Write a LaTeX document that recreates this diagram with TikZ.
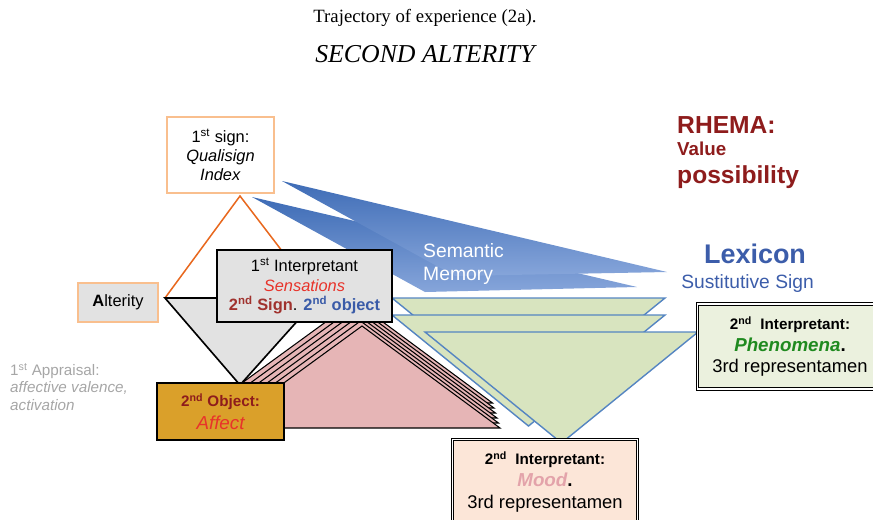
\documentclass[tikz,border=0pt]{standalone}
\usepackage{fontspec}
\setmainfont{Liberation Sans}
\newfontfamily\titlefont{Liberation Serif}
\newcommand{\fsz}[2]{\fontsize{#1}{#2}\selectfont}

\definecolor{peach}{HTML}{F9BF8E}
\definecolor{alterorange}{HTML}{E8681E}
\definecolor{greyfill}{HTML}{E2E2E2}
\definecolor{darkred}{HTML}{8E1C1C}
\definecolor{signred}{HTML}{A0322E}
\definecolor{objblue}{HTML}{3A5BA8}
\definecolor{sensred}{HTML}{E8332A}
\definecolor{gold}{HTML}{DAA02A}
\definecolor{pinkfill}{HTML}{E6B5B6}
\definecolor{greenfill}{HTML}{D8E4BF}
\definecolor{edgeblue}{HTML}{5585C2}
\definecolor{wedgetop}{HTML}{3E6CB6}
\definecolor{wedgebot}{HTML}{86A5DA}
\definecolor{phenomfill}{HTML}{EBF1DE}
\definecolor{phenomgreen}{HTML}{1F8A1F}
\definecolor{moodfill}{HTML}{FCE6D8}
\definecolor{moodpink}{HTML}{E3A3AA}
\definecolor{appraisalgrey}{HTML}{A6A6A6}
\definecolor{lexblue}{HTML}{3C5DAA}

\begin{document}
\begin{tikzpicture}[
    x=0.03cm, y=-0.03cm,
    box/.style={rectangle, align=center, line width=1.4pt, inner sep=0pt},
    signbox/.style={box, draw=peach, fill=white,
                    minimum width=3.21cm, minimum height=2.28cm,
                    font=\fsz{14}{16.2}},
    interpbox/.style={box, draw=black, fill=greyfill,
                      minimum width=5.25cm, minimum height=2.16cm,
                      font=\fsz{14}{16.5}},
    alterbox/.style={box, draw=peach, fill=greyfill,
                     minimum width=2.4cm, minimum height=1.17cm,
                     font=\fsz{14}{16}},
    objbox/.style={box, draw=black, fill=gold,
                   minimum width=3.81cm, minimum height=1.71cm,
                   font=\fsz{13}{19.5}},
    thirdbox/.style={box, draw=black, double=white, double distance=1.1pt,
                     line width=0.8pt, minimum width=5.55cm,
                     minimum height=2.55cm, font=\fsz{13}{18.7}},
    wedge/.style={top color=wedgetop, bottom color=wedgebot},
    greentri/.style={fill=greenfill, draw=edgeblue, line width=1.2pt,
                     line join=miter},
    pinktri/.style={fill=pinkfill, draw=black, line width=0.9pt},
    plain/.style={inner sep=0pt}
]
    \useasboundingbox (0,0) rectangle (873,519);
    \clip (0,0) rectangle (873,519);

    % Titles
    \node[plain, anchor=base, font=\titlefont\fsz{16}{18}] (title) at (425,22)
        {Trajectory of experience (2a).};
    \node[plain, anchor=base, font=\titlefont\itshape\fsz{22}{26}] (subtitle) at (425,62)
        {SECOND ALTERITY};

    % Semantic memory wedges
    \shade[wedge] (252,197) -- (637,287) -- (425,292) -- cycle;
    \shade[wedge] (282,181) -- (667,272) -- (455,276) -- cycle;
    \node[plain, anchor=north west, align=left, text=white,
          font=\fsz{16.5}{19.5}] (memory) at (423,243) {Semantic\\Memory};

    % Phenomena triangles
    \draw[greentri] (392,298) -- (665,298) -- (528.5,409) -- cycle;
    \draw[greentri] (392,315) -- (665,315) -- (528.5,426) -- cycle;
    \draw[greentri] (425,332) -- (698,332) -- (561.5,443) -- cycle;

    % Alterity triangle and first appraisal
    \draw[alterorange, line width=1.3pt] (165,298) -- (240,196) -- (318,298);
    \draw[fill=greyfill, draw=black, line width=1.4pt, line join=miter]
        (165,298) -- (318,298) -- (240,385) -- cycle;

    % Affect triangles (stacked)
    \draw[pinktri] (354.5,301) -- (214.5,403) -- (492.5,403) -- cycle;
    \draw[pinktri] (356,306) -- (216,408) -- (494,408) -- cycle;
    \draw[pinktri] (357.5,311) -- (217.5,413) -- (495.5,413) -- cycle;
    \draw[pinktri] (359,316) -- (219,418) -- (497,418) -- cycle;
    \draw[pinktri] (360.5,321) -- (220.5,423) -- (498.5,423) -- cycle;
    \draw[pinktri] (362,326) -- (222,428) -- (500,428) -- cycle;

    % Boxes
    \node[signbox] (sign) at (220.5,155)
        {1\textsuperscript{st} sign:\\\textit{Qualisign}\\\textit{Index}};
    \node[interpbox] (interp) at (304.5,286)
        {1\textsuperscript{st}\ Interpretant\\
         {\itshape\color{sensred}Sensations}\\
         {\bfseries\color{signred}2\textsuperscript{nd} Sign}. {\bfseries\color{objblue}2\textsuperscript{nd} object}};
    \node[alterbox] (alterity) at (118,302.5) {\textbf{A}lterity};
    \node[objbox] (object) at (220.5,411.5)
        {{\bfseries\color{darkred}2\textsuperscript{nd} Object:}\\
         {\fsz{16}{19}\itshape\color{sensred}Affect}};
    \node[thirdbox, fill=phenomfill] (phenom) at (790,346.5)
        {{\bfseries 2\textsuperscript{nd}\ \ Interpretant:}\\
         {\fsz{16}{19}\bfseries\itshape\color{phenomgreen}Phenomena}{\fsz{16}{19}\bfseries .}\\
         {\fsz{15.7}{19}3rd representamen}};
    \node[thirdbox, fill=moodfill] (mood) at (545,482)
        {{\bfseries 2\textsuperscript{nd}\ \ Interpretant:}\\
         {\fsz{16}{19}\bfseries\itshape\color{moodpink}Mood}{\fsz{16}{19}\bfseries .}\\
         {\fsz{15.7}{19}3rd representamen}};

    % Side texts
    \node[plain, anchor=north west, align=left, text=appraisalgrey,
          font=\fsz{13}{14.9}] (appraisal) at (10,363)
        {1\textsuperscript{st}\ Appraisal:\\\textit{affective valence,}\\\textit{activation}};
    \node[plain, anchor=base west, text=darkred, font=\bfseries\fsz{21}{24}] (rhema) at (677,133) {RHEMA:};
    \node[plain, anchor=base west, text=darkred, font=\bfseries\fsz{16}{19}] (value) at (677,155) {Value};
    \node[plain, anchor=base west, text=darkred, font=\bfseries\fsz{21}{24}] (possib) at (677,183) {possibility};
    \node[plain, anchor=base, text=lexblue, font=\bfseries\fsz{23}{26}] (lexicon) at (755,263) {Lexicon};
    \node[plain, anchor=base, text=lexblue, font=\fsz{16.4}{19}] (sustitutive) at (747.5,288) {Sustitutive Sign};
\end{tikzpicture}
\end{document}
